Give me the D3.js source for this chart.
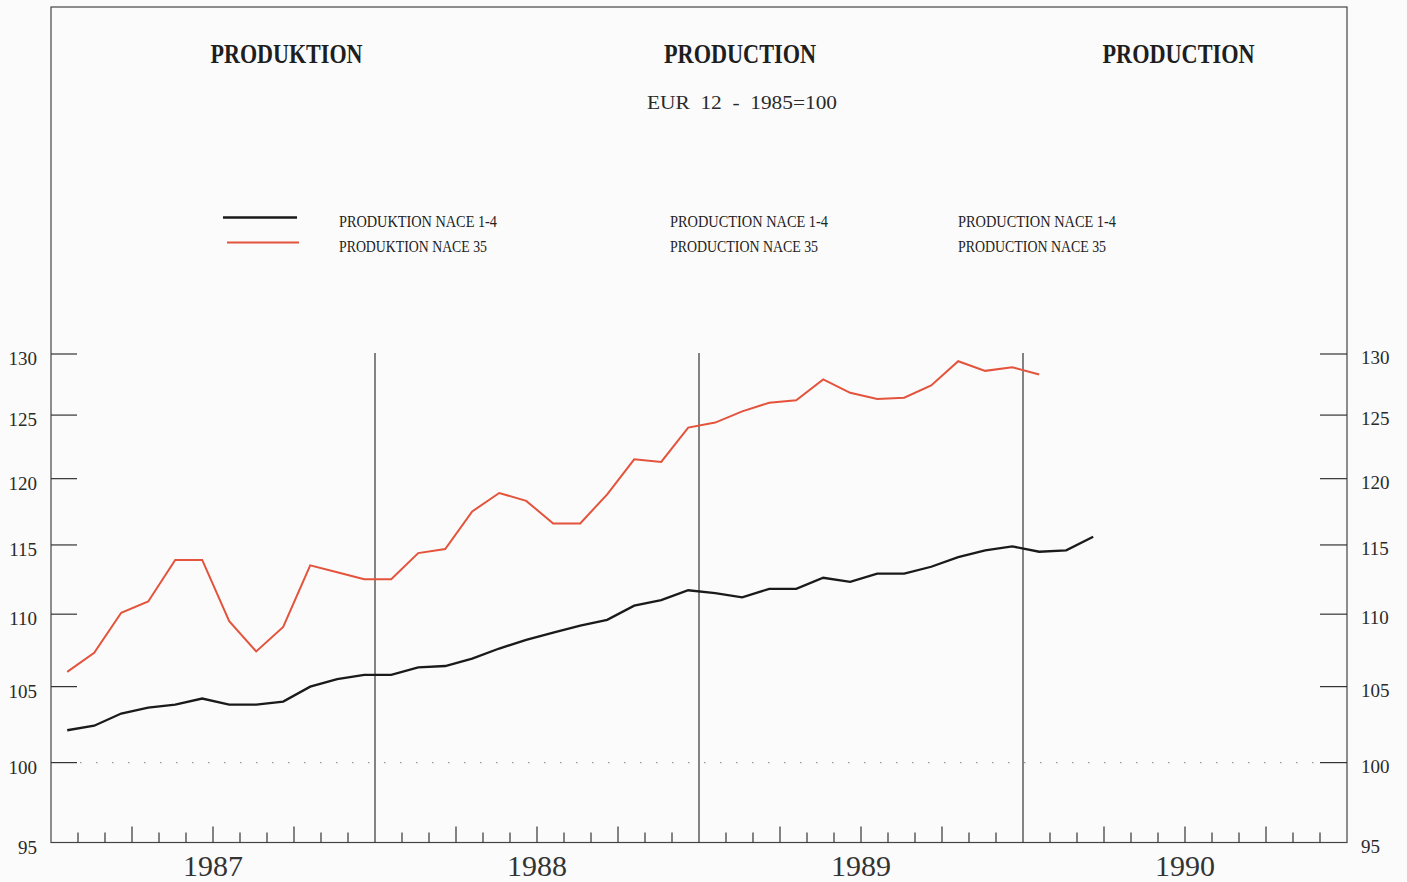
<!DOCTYPE html>
<html>
<head>
<meta charset="utf-8">
<script src="https://cdn.jsdelivr.net/npm/d3@7"></script>
<style>
    body { margin: 0; background: #fbfbfb; }
    svg { display: block; }
    text { font-family: "Liberation Serif", "DejaVu Serif", serif; }
</style>
</head>
<body>
<div id="chart"></div>
<script>
// Monthly indices, EUR 12, 1985=100 - first value is January 1987
const years = ['1987', '1988', '1989', '1990'];
const yTicks = [95, 100, 105, 110, 115, 120, 125, 130];

const nace14 = [
    102.1, 102.4, 103.2, 103.6, 103.8, 104.2, 103.8, 103.8, 104.0, 105.0, 105.5, 105.8,
    105.8, 106.3, 106.4, 106.9, 107.6, 108.2, 108.7, 109.2, 109.6, 110.6, 111.0, 111.7,
    111.5, 111.2, 111.8, 111.8, 112.6, 112.3, 112.9, 112.9, 113.4, 114.1, 114.6, 114.9,
    114.5, 114.6, 115.6
];
const nace35 = [
    106.0, 107.3, 110.1, 110.9, 113.9, 113.9, 109.5, 107.4, 109.1, 113.5, 113.0, 112.5,
    112.5, 114.4, 114.7, 117.5, 118.9, 118.3, 116.6, 116.6, 118.8, 121.5, 121.3, 124.0,
    124.4, 125.3, 126.0, 126.2, 127.9, 126.8, 126.3, 126.4, 127.4, 129.4, 128.6, 128.9,
    128.3
];

const titles = ['PRODUKTION', 'PRODUCTION', 'PRODUCTION'];
const subtitle = 'EUR  12  -  1985=100';
const legendLabels = [
    ['PRODUKTION NACE 1-4', 'PRODUKTION NACE 35'],
    ['PRODUCTION NACE 1-4', 'PRODUCTION NACE 35'],
    ['PRODUCTION NACE 1-4', 'PRODUCTION NACE 35']
];

const width = 1407, height = 882;
const frameLeft = 51, frameRight = 1347, frameTop = 7, frameBottom = 842.5;

const svg = d3.select('#chart')
    .append('svg')
    .attr('width', width)
    .attr('height', height);

// months since Jan 1987 on x, log scale on y
const x = d3.scaleLinear().domain([0, 48]).range([frameLeft, frameRight]);
const y = d3.scaleLog().domain([95, 130]).range([frameBottom, 354]);

// frame
svg.append('rect')
    .attr('x', frameLeft)
    .attr('y', frameTop)
    .attr('width', frameRight - frameLeft)
    .attr('height', frameBottom - frameTop)
    .attr('fill', 'none')
    .attr('stroke', '#444')
    .attr('stroke-width', 1.2);

// reference line at 100
svg.append('line')
    .attr('x1', 80).attr('x2', frameRight - 27)
    .attr('y1', y(100)).attr('y2', y(100))
    .attr('stroke', '#999')
    .attr('stroke-width', 1.2)
    .attr('stroke-dasharray', '1.5,14.5');

// y ticks on both sides
const yTickLines = yTicks.filter(v => v > 95);
svg.selectAll('.ytick-l')
    .data(yTickLines)
    .enter()
    .append('line')
    .attr('x1', frameLeft).attr('x2', frameLeft + 26)
    .attr('y1', d => y(d)).attr('y2', d => y(d))
    .attr('stroke', '#333')
    .attr('stroke-width', 1.2);

svg.selectAll('.ytick-r')
    .data(yTickLines)
    .enter()
    .append('line')
    .attr('x1', frameRight - 27).attr('x2', frameRight)
    .attr('y1', d => y(d)).attr('y2', d => y(d))
    .attr('stroke', '#333')
    .attr('stroke-width', 1.2);

svg.selectAll('.ylab-l')
    .data(yTicks)
    .enter()
    .append('text')
    .attr('x', 37)
    .attr('y', d => y(d) + 11)
    .attr('text-anchor', 'end')
    .attr('font-size', 19)
    .attr('fill', '#2a2a2a')
    .text(d => d);

svg.selectAll('.ylab-r')
    .data(yTicks)
    .enter()
    .append('text')
    .attr('x', 1361)
    .attr('y', d => y(d) + 10)
    .attr('font-size', 19)
    .attr('fill', '#2a2a2a')
    .text(d => d);

// month ticks, taller at quarter ends
const monthTicks = d3.range(1, 48).filter(k => k % 12 !== 0);
svg.selectAll('.mtick')
    .data(monthTicks)
    .enter()
    .append('line')
    .attr('x1', d => x(d)).attr('x2', d => x(d))
    .attr('y1', frameBottom)
    .attr('y2', d => frameBottom - (d % 3 === 0 ? 16 : 10))
    .attr('stroke', '#333')
    .attr('stroke-width', 1.2);

// year separators
svg.selectAll('.ysep')
    .data([12, 24, 36])
    .enter()
    .append('line')
    .attr('x1', d => x(d)).attr('x2', d => x(d))
    .attr('y1', y(130) - 1)
    .attr('y2', frameBottom)
    .attr('stroke', '#333')
    .attr('stroke-width', 1.2);

svg.selectAll('.year')
    .data(years)
    .enter()
    .append('text')
    .attr('x', (d, i) => x(i * 12 + 6))
    .attr('y', 876)
    .attr('text-anchor', 'middle')
    .attr('font-size', 30)
    .attr('fill', '#333')
    .text(d => d);

// series
const line = d3.line()
    .x((d, i) => x(i + 0.6))
    .y(d => y(d));

svg.append('path')
    .datum(nace35)
    .attr('d', line)
    .attr('fill', 'none')
    .attr('stroke', '#e4533b')
    .attr('stroke-width', 2);

svg.append('path')
    .datum(nace14)
    .attr('d', line)
    .attr('fill', 'none')
    .attr('stroke', '#1a1a1a')
    .attr('stroke-width', 2.3);

// titles
const titleX = [286.5, 740, 1178.5];
svg.selectAll('.title')
    .data(titles)
    .enter()
    .append('text')
    .attr('x', (d, i) => titleX[i])
    .attr('y', 63)
    .attr('text-anchor', 'middle')
    .attr('font-size', 27)
    .attr('font-weight', 'bold')
    .attr('fill', '#1e1e1e')
    .attr('textLength', 152)
    .attr('lengthAdjust', 'spacingAndGlyphs')
    .text(d => d);

svg.append('text')
    .attr('x', 742)
    .attr('y', 109)
    .attr('text-anchor', 'middle')
    .attr('font-size', 19)
    .attr('fill', '#2a2a2a')
    .attr('textLength', 190)
    .attr('lengthAdjust', 'spacingAndGlyphs')
    .style('white-space', 'pre')
    .text(subtitle);

// legend
svg.append('line')
    .attr('x1', 223).attr('x2', 297)
    .attr('y1', 217.5).attr('y2', 217.5)
    .attr('stroke', '#1a1a1a')
    .attr('stroke-width', 2.6);

svg.append('line')
    .attr('x1', 227).attr('x2', 299)
    .attr('y1', 242.5).attr('y2', 242.5)
    .attr('stroke', '#e4533b')
    .attr('stroke-width', 2.2);

const legendX = [339, 670, 958];
legendLabels.forEach((pair, col) => {
    pair.forEach((label, row) => {
        svg.append('text')
            .attr('x', legendX[col])
            .attr('y', row === 0 ? 226.5 : 252)
            .attr('font-size', 16)
            .attr('fill', '#222')
            .attr('textLength', row === 0 ? 158 : 148)
            .attr('lengthAdjust', 'spacingAndGlyphs')
            .text(label);
    });
});
</script>
</body>
</html>
